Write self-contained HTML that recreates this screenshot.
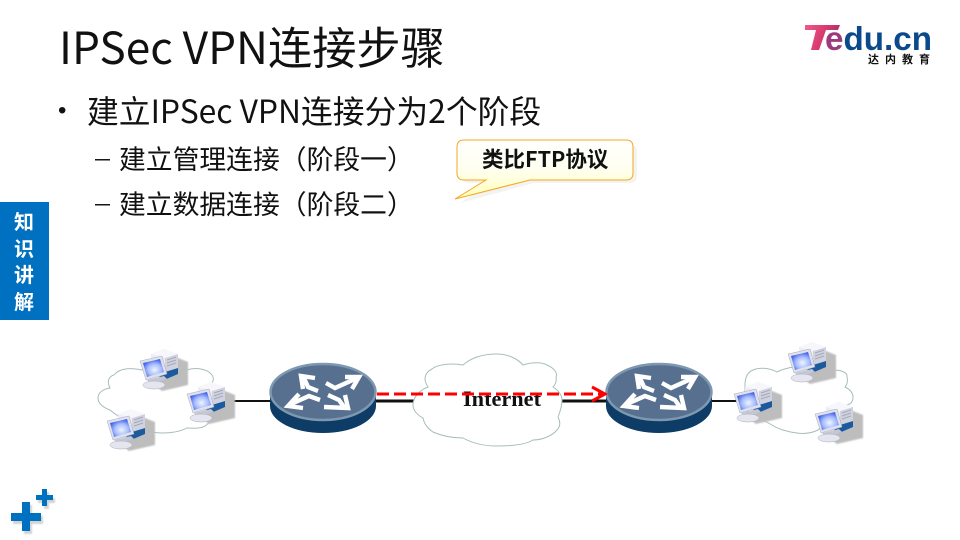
<!DOCTYPE html>
<html><head><meta charset="utf-8"><style>
html,body{margin:0;padding:0;background:#fff}
#p{position:relative;width:960px;height:540px;overflow:hidden;background:#fff;font-family:"Noto Sans CJK SC","Liberation Sans",sans-serif;color:#111}
.t{position:absolute;white-space:nowrap;line-height:1}
</style></head><body><div id="p">
<div class="t" style="left:59px;top:23px;font-size:44.2px;font-weight:400">IPSec VPN连接步骤</div>
<div class="t" style="left:58px;top:99px;font-size:24px;font-family:'Liberation Sans',sans-serif">•</div>
<div class="t" style="left:87px;top:95px;font-size:31.8px;font-weight:400">建立IPSec VPN连接分为2个阶段</div>
<div class="t" style="left:95px;top:152px;font-size:15px;font-weight:700;font-family:'Liberation Sans',sans-serif">—</div>
<div class="t" style="left:119px;top:145px;font-size:26.8px;font-weight:400">建立管理连接（阶段一）</div>
<div class="t" style="left:95px;top:197px;font-size:15px;font-weight:700;font-family:'Liberation Sans',sans-serif">—</div>
<div class="t" style="left:119px;top:190px;font-size:26.8px;font-weight:400">建立数据连接（阶段二）</div>

<div style="position:absolute;left:0;top:202px;width:49px;height:118px;background:#0070c0"></div>
<div class="t" style="left:13px;top:208px;width:22px;font-size:20px;line-height:26.5px;font-weight:700;color:#fff;white-space:normal;text-align:center">知识讲解</div>

<svg width="960" height="540" style="position:absolute;left:0;top:0" xmlns="http://www.w3.org/2000/svg">
<defs>
<linearGradient id="cg" x1="0" y1="0" x2="0" y2="1"><stop offset="0" stop-color="#fff"/><stop offset="0.5" stop-color="#fffff0"/><stop offset="1" stop-color="#ffffb8"/></linearGradient>
<linearGradient id="lg" x1="0" y1="0" x2="1" y2="0.3"><stop offset="0" stop-color="#ef5a88"/><stop offset="0.6" stop-color="#d9386f"/><stop offset="1" stop-color="#a82f70"/></linearGradient>
<radialGradient id="sc" cx="0.55" cy="0.6" r="0.6"><stop offset="0" stop-color="#eef4ff"/><stop offset="0.55" stop-color="#a6bcff"/><stop offset="1" stop-color="#3d5ce8"/></radialGradient>
<filter id="bl" x="-20%" y="-20%" width="140%" height="140%"><feGaussianBlur stdDeviation="0.8"/></filter>
<filter id="b2" x="-20%" y="-20%" width="140%" height="140%"><feGaussianBlur stdDeviation="0.35"/></filter>
<g id="pc">
<path d="M12 34 L22 42 L48 36 L48 13 L38 9 L30 14Z" fill="#bdbdbd" filter="url(#bl)"/>
<g filter="url(#b2)">
<path d="M11 5 L24 0 L38 5 L38 24 L24 31 L11 27Z" fill="#eceef4"/>
<path d="M25 9 L38 5 L38 24 L25 30Z" fill="#d0d3df"/>
<path d="M11 5 L24 0 L38 5 L25 9Z" fill="#f7f7fb"/>
<path d="M25 23 L38 19 L38 25 L24 31 L18 29Z" fill="#1f5a9e"/>
<path d="M27 11 L36 8 M27 14 L36 11 M27 17 L36 14" stroke="#a4a8b8" stroke-width="1"/>
<path d="M0 12 L22 7 L27 25 L6 31Z" fill="#dfe1ec" stroke="#a8aab8" stroke-width=".5"/>
<path d="M3 14 L20 10 L24 23 L7 28Z" fill="url(#sc)"/>
<path d="M7 31 L24 27 L27 30 L11 35Z" fill="#c4c7d6"/>
<ellipse cx="14" cy="36" rx="11" ry="4" fill="#e4e5ee" stroke="#a8aab8" stroke-width=".5"/>
</g>
</g>
<g id="rt">
<path d="M-53 0 V14 A53 27 0 0 0 53 14 V0Z" fill="#0d3c66"/>
<ellipse cx="0" cy="0" rx="52.5" ry="28" fill="#58708f" stroke="#7d98b0" stroke-width="2.5"/>
<g fill="none" stroke="#fff" stroke-width="4.4" stroke-linejoin="miter" stroke-miterlimit="10">
<path d="M-5 -1 L-15 -5 L-19 -14"/>
<path d="M-20 -3 L-22 -16 L-8 -14"/>
<path d="M3 -9 L12 -4 L32 -13"/>
<path d="M22 -15 L36 -15 L29 -3"/>
<path d="M-32 12 L-14 4 L-3 8"/>
<path d="M-24 2 L-35 14 L-20 16"/>
<path d="M5 3 L16 8 L21 15"/>
<path d="M22 3 L25 16 L1 15"/>
</g>
</g>
</defs>

<!-- callout -->
<path d="M465 141 H626 Q633 141 633 148 V172 Q633 179 626 179 H530 L456 199 L487 179 H465 Q458 179 458 172 V148 Q458 141 465 141Z" fill="#dcdcd4" opacity=".35" transform="translate(4 4)"/>
<path d="M464 140 H626 Q633 140 633 147 V173 Q633 180 626 180 H530 L455 199 L486 180 H464 Q457 180 457 173 V147 Q457 140 464 140Z" fill="url(#cg)" stroke="#f5a623" stroke-width="1"/>
<text x="482" y="167" font-size="21.5" font-weight="700" fill="#111" font-family="'Noto Sans CJK SC','Liberation Sans',sans-serif">类比FTP协议</text>

<!-- left cloud -->
<path d="M98 398 C98 392 104 389 110 388 C106 380 110 376 114 375 C120 367 134 368 142 370 C152 362 170 358 180 363 L187 370 C195 367 206 369 210 373 C214 376 214 380 212 383 L213 413 C212 420 208 425 203 427 C198 429 192 428 187 428 C178 433 162 434 152 432 C140 429 122 420 110 410 C102 407 98 403 98 398Z" fill="#fff" stroke="#a7bdbd" stroke-width="1"/>
<!-- wires -->
<line x1="225" y1="401" x2="280" y2="401" stroke="#111" stroke-width="2"/>
<line x1="370" y1="401" x2="420" y2="401" stroke="#111" stroke-width="3"/>
<line x1="558" y1="401" x2="612" y2="401" stroke="#111" stroke-width="3"/>
<line x1="705" y1="401" x2="740" y2="401" stroke="#111" stroke-width="2"/>

<!-- Internet cloud -->
<path d="M413 405 C413 397 420 390 428 387 C422 378 426 372 432 369 C438 364 452 363 463 365 C472 357 485 354 497 354 C508 354 518 359 523 365 C532 362 542 362 547 365 C554 368 558 373 556 377 C557 381 555 385 553 387 C558 390 562 395 562 400 C562 406 560 412 558 417 C561 423 560 427 557 430 C552 436 542 440 533 440 C525 445 510 446 497 446 C484 446 472 443 463 438 C452 438 442 436 433 432 C427 428 424 423 423 418 C417 415 413 410 413 405Z" fill="#fff" stroke="#a7bdbd" stroke-width="1"/>
<text x="463" y="406" font-size="22" font-weight="700" fill="#111" font-family="'Liberation Serif',serif" textLength="78" lengthAdjust="spacingAndGlyphs">Internet</text>

<!-- right cloud -->
<path d="M745 385 C745 377 748 372 753 370 C760 367 770 368 777 372 C790 365 820 364 833 370 C842 370 848 373 847 377 C848 381 847 385 845 387 C851 390 853 394 853 397 C853 401 851 404 847 405 L818 430 C812 433 804 434 797 433 C788 432 778 429 772 425 L745 410Z" fill="#fff" stroke="#a7bdbd" stroke-width="1"/>

<!-- routers -->
<use href="#rt" x="323" y="392"/>
<use href="#rt" x="659" y="392"/>

<!-- PCs -->
<use href="#pc" x="140" y="349"/>
<use href="#pc" x="187" y="382"/>
<use href="#pc" x="107" y="409"/>
<use href="#pc" x="788" y="342"/>
<use href="#pc" x="734" y="382"/>
<use href="#pc" x="815" y="402"/>

<!-- red arrow -->
<line x1="377" y1="394" x2="602" y2="394" stroke="#f00" stroke-width="3" stroke-dasharray="12 5"/>
<path d="M592 387 L605 394 L592 401" fill="none" stroke="#f00" stroke-width="3"/>

<!-- plus -->
<g fill="#b5b5b5" opacity=".6" filter="url(#bl)"><rect x="13" y="516" width="30" height="8"/><rect x="24" y="505" width="8" height="29"/><rect x="38" y="498" width="17" height="5"/><rect x="44" y="492" width="5" height="17"/></g>
<g fill="#0070c0"><rect x="11" y="513" width="30" height="8"/><rect x="22" y="502" width="8" height="29"/><rect x="36" y="495" width="17" height="5"/><rect x="42" y="489" width="5" height="17"/></g>

<!-- logo -->
<path d="M805 25 H840 L838 30 H826 L819 50 H811 L816 30 H805Z" fill="url(#lg)"/>
<text x="825" y="50" font-size="33" font-weight="700" fill="#0b4a8a" font-family="'Liberation Sans',sans-serif" textLength="107" lengthAdjust="spacingAndGlyphs"><tspan fill="#9c3a7c">e</tspan>du.cn</text>
<text x="868" y="63" font-size="11" font-weight="700" fill="#111" letter-spacing="6" font-family="'Noto Sans CJK SC',sans-serif">达内教育</text>
</svg>
</div></body></html>
